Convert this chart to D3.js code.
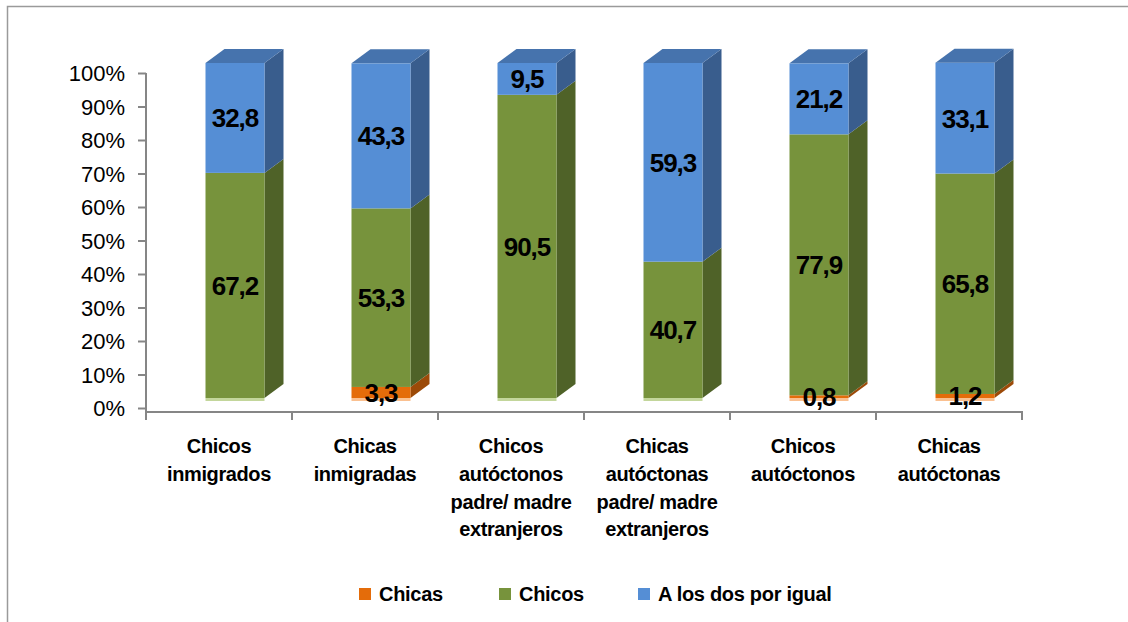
<!DOCTYPE html>
<html>
<head>
<meta charset="utf-8">
<script src="https://cdn.jsdelivr.net/npm/d3@7"></script>
<style>
  html, body { margin: 0; padding: 0; background: #fff; }
  svg { display: block; font-family: "Liberation Sans", Arial, sans-serif; }
</style>
</head>
<body>
<svg id="chart" width="1128" height="622"></svg>
<script>
// Categories (multi-line labels) and stacked series values (%)
const categories = [
  ["Chicos", "inmigrados"],
  ["Chicas", "inmigradas"],
  ["Chicos", "autóctonos", "padre/ madre", "extranjeros"],
  ["Chicas", "autóctonas", "padre/ madre", "extranjeros"],
  ["Chicos", "autóctonos"],
  ["Chicas", "autóctonas"]
];
const seriesNames = ["Chicas", "Chicos", "A los dos por igual"];
const chicas = [0, 3.3, 0, 0, 0.8, 1.2];
const chicos = [67.2, 53.3, 90.5, 40.7, 77.9, 65.8];
const ambos  = [32.8, 43.3, 9.5, 59.3, 21.2, 33.1];
const yTicks = [0, 10, 20, 30, 40, 50, 60, 70, 80, 90, 100];

const seriesValues = [chicas, chicos, ambos];
const front = ["#E46C0A", "#77933C", "#558ED5"];
const side  = ["#9C4A08", "#4F6228", "#395D8D"];
const top_  = ["#B8580A", "#5F7530", "#4673AD"];
const light = ["#FAC090", "#C3D69B", "#B9CDE5"];

const svg = d3.select("#chart");

// outer frame
svg.append("rect")
  .attr("x", 7.5).attr("y", 6.5).attr("width", 1130).attr("height", 630)
  .attr("fill", "none").attr("stroke", "#9a9a9a").attr("stroke-width", 1.5);

const x = d3.scaleBand().domain(d3.range(categories.length)).range([146, 1022]);
const yAxisScale = d3.scaleLinear().domain([0, 100]).range([408, 73]);
const yFront = d3.scaleLinear().domain([0, 100]).range([398, 63]);

const barW = 59, barOff = 59.5, dx = 19, dy = 14;

// stacked layout
const rows = categories.map((c, i) => {
  const r = { i };
  seriesNames.forEach((s, k) => r[k] = seriesValues[k][i]);
  return r;
});
const stack = d3.stack().keys([0, 1, 2])(rows);

// axes
const axisColor = "#868686";
const yAxis = svg.append("g")
  .attr("transform", "translate(146,0)")
  .call(d3.axisLeft(yAxisScale).tickValues(yTicks).tickFormat(d => d + "%")
    .tickSize(8).tickSizeOuter(0).tickPadding(13));
yAxis.select(".domain").remove();
yAxis.selectAll(".tick line").attr("stroke", axisColor).attr("stroke-width", 2);
yAxis.selectAll(".tick text")
  .attr("font-size", 22).attr("fill", "#000")
  .attr("font-family", "'Liberation Sans', Arial, sans-serif")
  .attr("dy", null).attr("y", 7.8);

svg.append("line").attr("x1", 146).attr("x2", 146).attr("y1", 73).attr("y2", 420)
  .attr("stroke", axisColor).attr("stroke-width", 2);
svg.append("line").attr("x1", 146).attr("x2", 1023).attr("y1", 412).attr("y2", 412)
  .attr("stroke", axisColor).attr("stroke-width", 2);
const bounds = d3.range(categories.length + 1).map(i => 146 + i * x.bandwidth());
svg.selectAll(".xt").data(bounds).enter().append("line")
  .attr("x1", d => d).attr("x2", d => d).attr("y1", 412).attr("y2", 420)
  .attr("stroke", axisColor).attr("stroke-width", 2);

// bars
const bars = svg.append("g");
stack.forEach((layer, k) => {
  layer.forEach((seg, i) => {
    const v0 = seg[0], v1 = seg[1];
    if (v1 - v0 <= 0) return;
    const fx = x(i) + barOff;
    const yt = yFront(v1), yb = yFront(v0);
    bars.append("polygon")
      .attr("points", [[fx + barW, yt], [fx + barW + dx, yt - dy], [fx + barW + dx, yb - dy], [fx + barW, yb]].join(" "))
      .attr("fill", side[k]);
    bars.append("rect")
      .attr("x", fx).attr("y", yt).attr("width", barW).attr("height", yb - yt)
      .attr("fill", front[k]);
  });
});

// top faces and bottom edges
rows.forEach((r, i) => {
  const fx = x(i) + barOff;
  const total = stack[2][i][1];
  const yt = yFront(total);
  bars.append("polygon")
    .attr("points", [[fx, yt], [fx + dx, yt - dy], [fx + barW + dx, yt - dy], [fx + barW, yt]].join(" "))
    .attr("fill", top_[2]);
  const lowest = [0, 1, 2].find(k => seriesValues[k][i] > 0);
  bars.append("rect")
    .attr("x", fx).attr("y", yFront(0)).attr("width", barW).attr("height", 3)
    .attr("fill", light[lowest]);
});

// value labels
stack.forEach((layer, k) => {
  layer.forEach((seg, i) => {
    const v = seriesValues[k][i];
    if (v <= 0) return;
    const cx = x(i) + barOff + barW / 2;
    const cy = (yFront(seg[0]) + yFront(seg[1])) / 2;
    svg.append("text")
      .attr("x", cx).attr("y", cy + 9.5)
      .attr("text-anchor", "middle")
      .attr("font-size", 26).attr("font-weight", "bold")
      .attr("letter-spacing", -1)
      .attr("fill", "#000")
      .text(d3.format(".1f")(v).replace(".", ","));
  });
});

// category labels
categories.forEach((lines, i) => {
  const t = svg.append("text")
    .attr("text-anchor", "middle")
    .attr("font-size", 20).attr("font-weight", "bold")
    .attr("letter-spacing", -0.4)
    .attr("fill", "#000");
  lines.forEach((ln, j) => {
    t.append("tspan").attr("x", x(i) + x.bandwidth() / 2).attr("y", 453 + j * 27.8).text(ln);
  });
});

// legend
const legendX = [359, 499, 638];
seriesNames.forEach((s, k) => {
  svg.append("rect").attr("x", legendX[k]).attr("y", 588).attr("width", 12).attr("height", 12)
    .attr("fill", front[k]);
  svg.append("text").attr("x", legendX[k] + 20).attr("y", 601)
    .attr("font-size", 20).attr("font-weight", "bold").attr("letter-spacing", -0.3)
    .attr("fill", "#000").text(s);
});
</script>
</body>
</html>
